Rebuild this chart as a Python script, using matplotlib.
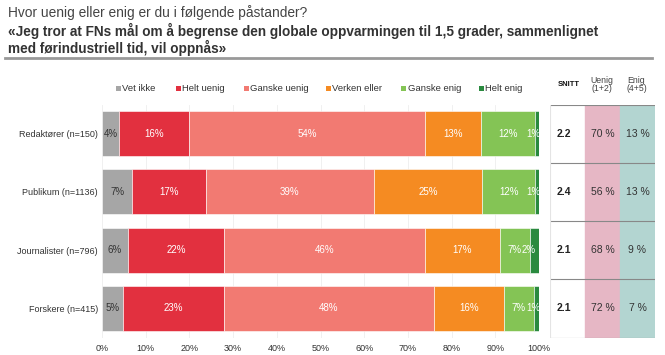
import matplotlib
matplotlib.use("Agg")
import matplotlib.pyplot as plt
from matplotlib.patches import Rectangle

plt.rcParams['font.family'] = ['Liberation Sans', 'DejaVu Sans']

categories = ["Redaktører (n=150)", "Publikum (n=1136)", "Journalister (n=796)", "Forskere (n=415)"]
series_names = ["Vet ikke", "Helt uenig", "Ganske uenig", "Verken eller", "Ganske enig", "Helt enig"]
vet_ikke = [4.0, 6.9, 5.9, 4.9]
helt_uenig = [16.0, 16.8, 22.0, 23.0]
ganske_uenig = [53.8, 38.6, 46.0, 48.0]
verken_eller = [13.0, 24.7, 17.1, 16.0]
ganske_enig = [12.2, 12.1, 7.0, 7.0]
helt_enig = [1.0, 0.9, 2.0, 1.1]
snitt = ["2.2", "2.4", "2.1", "2.1"]
uenig = ["70 %", "56 %", "68 %", "72 %"]
enig = ["13 %", "13 %", "9 %", "7 %"]
xticks = [0, 10, 20, 30, 40, 50, 60, 70, 80, 90, 100]

colors = ["#a6a6a6", "#e2303f", "#f27a72", "#f58b22", "#84c455", "#2a8a3f"]
text_colors = ["#333333", "white", "white", "white", "white", "white"]

W, H = 665, 355
fig = plt.figure(figsize=(W / 100, H / 100), dpi=100)

def fx(px):
    return px / W

def fy(py):
    return 1 - py / H

# main axes
ax = fig.add_axes([fx(102), fy(337.5), fx(539) - fx(102), fy(104.5) - fy(337.5)])
series = [vet_ikke, helt_uenig, ganske_uenig, verken_eller, ganske_enig, helt_enig]
ypos = list(range(len(categories)))
left = [0.0] * len(categories)
for i, vals in enumerate(series):
    ax.barh(ypos, vals, left=left, height=0.776, color=colors[i],
            edgecolor="white", linewidth=0.4, label=series_names[i], zorder=2)
    for j, v in enumerate(vals):
        cx = left[j] + v / 2
        if i == 5:
            cx = left[j] - 0.3
        ax.text(cx, ypos[j], f"{round(v)}%", ha="center", va="center",
                fontsize=7, color=text_colors[i], zorder=3)
    left = [l + v for l, v in zip(left, vals)]

ax.set_xlim(0, 100)
ax.set_ylim(3.5, -0.5)
ax.set_yticks(ypos)
ax.set_yticklabels(categories, fontsize=6.5, color="#333333")
ax.set_xticks(xticks)
ax.set_xticklabels([f"{t}%" for t in xticks], fontsize=6.5, color="#333333")
ax.tick_params(length=0, pad=3)
ax.tick_params(axis="x", pad=5)
for s in ax.spines.values():
    s.set_visible(False)
ax.grid(axis="x", color="#eeeeee", linewidth=0.6, zorder=0)
ax.set_axisbelow(True)

# legend (manual)
legend_x = [116, 176, 244, 326, 401, 479]
for name, c, lx in zip(series_names, colors, legend_x):
    fig.add_artist(Rectangle((fx(lx), fy(91)), fx(5), fy(86) - fy(91), facecolor=c,
                             edgecolor="none", transform=fig.transFigure))
    fig.text(fx(lx + 6.5), fy(88.5), name, fontsize=6.8, color="#333333", ha="left", va="center")

# title
fig.text(fx(8), fy(13), "Hvor uenig eller enig er du i følgende påstander?",
         fontsize=9.9, color="#444444", va="center", ha="left")
fig.text(fx(8), fy(31), "«Jeg tror at FNs mål om å begrense den globale oppvarmingen til 1,5 grader, sammenlignet",
         fontsize=9.8, fontweight="bold", color="#333333", va="center", ha="left")
fig.text(fx(8), fy(48), "med førindustriell tid, vil oppnås»",
         fontsize=9.8, fontweight="bold", color="#333333", va="center", ha="left")
fig.add_artist(plt.Line2D([fx(5), fx(652)], [fy(57.5), fy(57.5)], color="#999999", linewidth=2))

# table axes
tax = fig.add_axes([fx(550), fy(337.5), fx(655) - fx(550), fy(104.5) - fy(337.5)])
tax.set_xlim(550, 655)
tax.set_ylim(3.5, -0.5)
tax.axis("off")
tax.axvspan(585, 620, color="#e6b7c5", zorder=0)
tax.axvspan(620, 655, color="#b3d5d1", zorder=0)
for k in range(len(categories) + 1):
    tax.axhline(k - 0.5, color="#888888", linewidth=0.8, zorder=1)
tax.axvline(550, color="#e4e4e4", linewidth=0.8, zorder=1)
for j in ypos:
    tax.text(564, j, snitt[j], ha="center", va="center", fontsize=7.5, fontweight="bold", color="#222222")
    tax.text(602.5, j, uenig[j], ha="center", va="center", fontsize=7.5, color="#333333")
    tax.text(637.5, j, enig[j], ha="center", va="center", fontsize=7.5, color="#333333")

fig.text(fx(569), fy(84.5), "SNITT", fontsize=5.5, fontweight="bold", ha="center", va="center", color="#111111")
fig.text(fx(601.5), fy(84.5), "Uenig\n(1+2)", fontsize=6.3, ha="center", va="center", color="#444444", linespacing=0.85)
fig.text(fx(636.5), fy(84.5), "Enig\n(4+5)", fontsize=6.3, ha="center", va="center", color="#444444", linespacing=0.85)

fig.savefig("out.png", dpi=100, facecolor="white")
